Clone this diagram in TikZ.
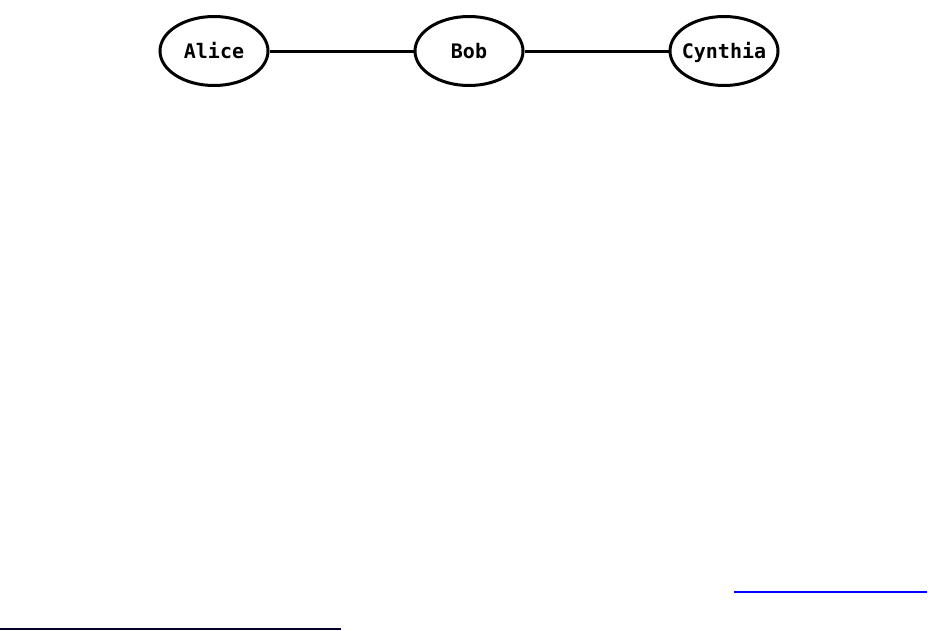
\documentclass[tikz,border=0pt]{standalone}
\usepackage{fontspec}
\newfontfamily\monofont{DejaVu Sans Mono}
\usetikzlibrary{shapes.geometric}
\begin{document}
\begin{tikzpicture}[x=1pt,y=-1pt,
  person/.style={ellipse,draw=black,line width=3pt,minimum width=108pt,minimum height=69pt,
    inner xsep=-6pt,inner ysep=0pt,
    text height=14.5pt,text depth=0pt,
    font=\monofont\bfseries\fontsize{20}{20}\selectfont},
  link/.style={line width=3pt,draw=black}]
\useasboundingbox[fill=white] (0,0) rectangle (937,630);
\node[person] (alice) at (214,51) {Alice};
\node[person] (bob) at (469,51) {Bob};
\node[person] (cynthia) at (724,51) {Cynthia};
\draw[link] (alice) -- (bob);
\draw[link] (bob) -- (cynthia);
\coordinate (b1) at (734,592);
\coordinate (b2) at (927,592);
\draw[blue,line width=2.2pt] (b1) -- (b2);
\coordinate (r1) at (0,629);
\coordinate (r2) at (341,629);
\draw[black!85!blue,line width=1.2pt] (r1) -- (r2);
\end{tikzpicture}
\end{document}
